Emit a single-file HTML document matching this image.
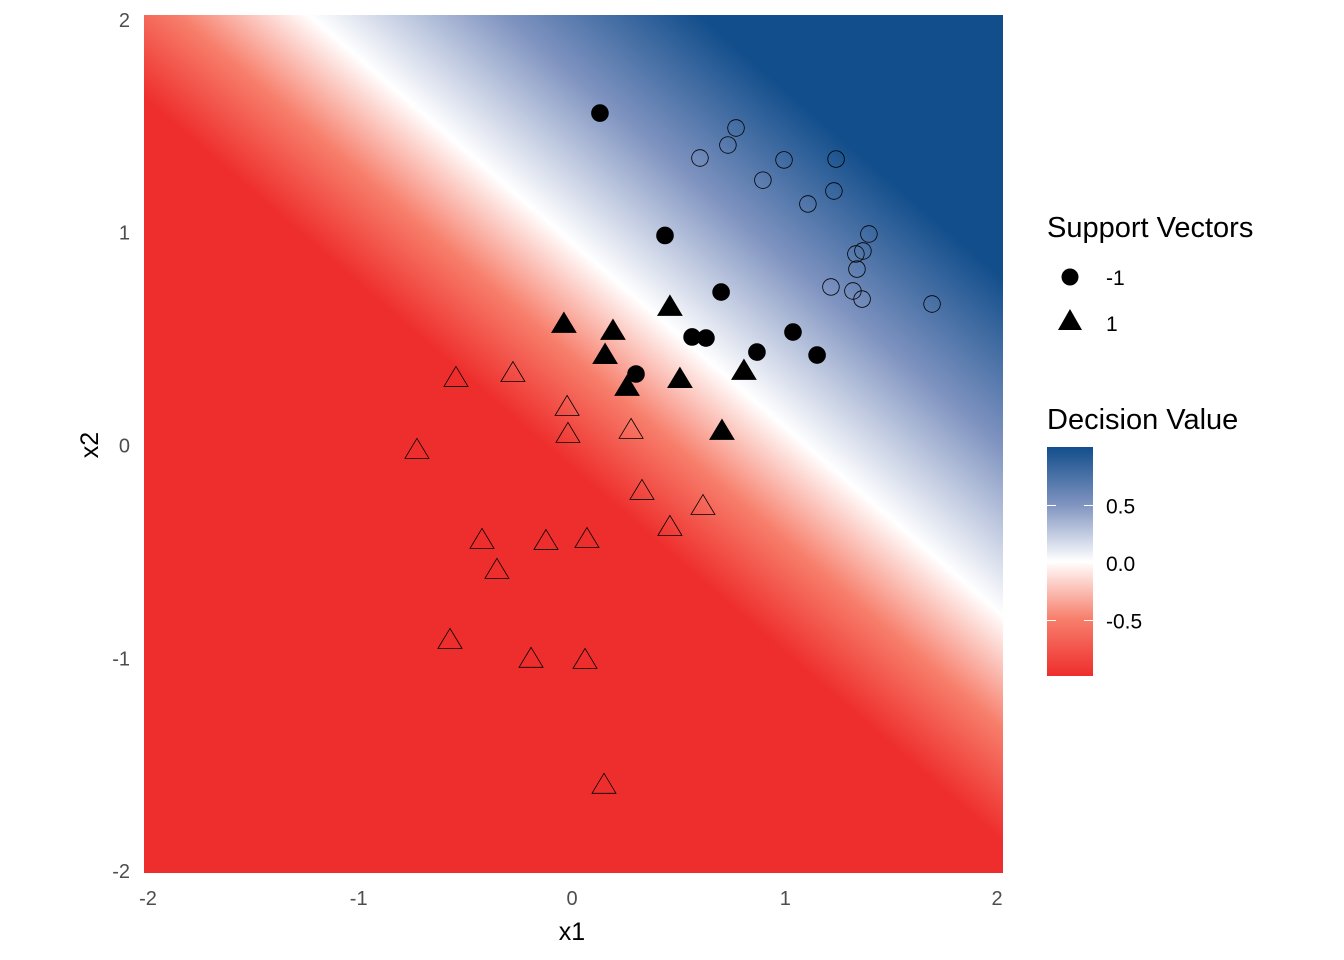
<!DOCTYPE html>
<html><head><meta charset="utf-8"><style>
body{margin:0;background:#fff}
svg{display:block;font-family:"Liberation Sans",Arial,sans-serif}
</style></head><body>
<svg id="c" width="1344" height="960" viewBox="0 0 1344 960" xmlns="http://www.w3.org/2000/svg">
<defs>
<linearGradient id="bar" x1="0" y1="1" x2="0" y2="0">
<stop offset="0" stop-color="#ee2e2c"/><stop offset="0.25" stop-color="#f77f6c"/><stop offset="0.5" stop-color="#ffffff"/><stop offset="0.75" stop-color="#7f93c0"/><stop offset="1" stop-color="#124e8b"/>
</linearGradient>
</defs>
<g id="panel"></g>
<g id="pts"></g>
<g id="axes"></g>
<g id="legend"></g>
</svg>
<script>
const c1x1=[0.131,0.436,0.699,0.563,0.628,0.300,0.867,1.036,1.149];
const c1x2=[1.562,0.987,0.721,0.510,0.505,0.336,0.439,0.533,0.425];
const o1x1=[0.600,0.769,0.731,0.895,0.994,1.238,1.106,1.228,1.392,1.331,1.364,1.336,1.214,1.317,1.360,1.688];
const o1x2=[1.351,1.492,1.412,1.247,1.342,1.346,1.135,1.196,0.994,0.900,0.914,0.829,0.745,0.726,0.688,0.665];
const t1x1=[-0.038,0.459,0.192,0.155,0.258,0.506,0.806,0.703];
const t1x2=[0.576,0.656,0.543,0.430,0.280,0.317,0.355,0.073];
const ot1x1=[-0.544,-0.277,-0.023,-0.019,0.277,-0.727,0.328,0.614,0.459,-0.422,-0.122,0.070,-0.352,-0.572,-0.192,0.061,0.150];
const ot1x2=[0.322,0.345,0.186,0.059,0.078,-0.016,-0.209,-0.280,-0.378,-0.439,-0.444,-0.435,-0.580,-0.909,-0.998,-1.003,-1.590];
const xTicks=[-2,-1,0,1,2];
const yTicks=[-2,-1,0,1,2];
const legTicks=[0.5,0.0,-0.5];
// decision boundary (two points on f=0) and saturation distances (data units) on each side
const boundaryA=[-1.23,2.02], boundaryB=[2.02,-0.80];
const satRed=0.8, satBlue=1.2;

const NS="http://www.w3.org/2000/svg";
const X=v=>572+213.3*v, Y=v=>445.5-212.8*v;
function mk(t,a,p){const e=document.createElementNS(NS,t);for(const k in a)e.setAttribute(k,a[k]);p.appendChild(e);return e;}
const svg=document.getElementById('c');
const panel=document.getElementById('panel'),pts=document.getElementById('pts'),axes=document.getElementById('axes'),leg=document.getElementById('legend');

const ax=X(boundaryA[0]),ay=Y(boundaryA[1]),bx=X(boundaryB[0]),by=Y(boundaryB[1]);
let dx=bx-ax,dy=by-ay,L=Math.hypot(dx,dy);let nx=dy/L,ny=-dx/L;
const mx=(ax+bx)/2,my=(ay+by)/2,dr=satRed*213,db=satBlue*213;
const w=dr/(dr+db);
const defs=svg.querySelector('defs');
const g=mk('linearGradient',{id:'bg',gradientUnits:'userSpaceOnUse',x1:mx-nx*dr,y1:my-ny*dr,x2:mx+nx*db,y2:my+ny*db},defs);
[[0,'#ee2e2c'],[w*0.5,'#f77f6c'],[w,'#ffffff'],[w+(1-w)*0.5,'#7f93c0'],[1,'#124e8b']].forEach(s=>mk('stop',{offset:s[0],'stop-color':s[1]},g));
const bgr=mk('rect',{x:144,y:15,width:859,height:858,fill:'url(#bg)'},panel);



function circ(x,y,filled,name){const e=mk('circle',{cx:X(x),cy:Y(y),r:8.3,fill:filled?'#000':'none',stroke:'#000','stroke-width':filled?1:0.8},pts);

}
function tri(x,y,filled,name){const cx=X(x),cy=Y(y),h=10.5,w=12;
const e=mk('polygon',{points:`${cx},${cy-h} ${cx-w},${cy+h*0.9} ${cx+w},${cy+h*0.9}`,fill:filled?'#000':'none',stroke:'#000','stroke-width':filled?1:0.8},pts);

}
o1x1.forEach((v,i)=>circ(v,o1x2[i],false,'point-class-neg1'));
c1x1.forEach((v,i)=>circ(v,c1x2[i],true,'support-vector-neg1'));
ot1x1.forEach((v,i)=>tri(v,ot1x2[i],false,'point-class-1'));
t1x1.forEach((v,i)=>tri(v,t1x2[i],true,'support-vector-1'));

function txt(s,a,p,name){const e=mk('text',a,p);e.textContent=s;

return e;}
xTicks.forEach(v=>{const xx=Math.min(Math.max(X(v),148),997);txt(String(v),{x:xx,y:905,'text-anchor':'middle','font-size':20,fill:'#4d4d4d'},axes,'x-tick-label');});
yTicks.forEach(v=>{const yy=Math.min(Math.max(Y(v),20),871);txt(String(v),{x:130,y:yy+7,'text-anchor':'end','font-size':20,fill:'#4d4d4d'},axes,'y-tick-label');});
txt('x1',{x:572,y:940,'text-anchor':'middle','font-size':25,fill:'#000'},axes,'x-axis-title');
txt('x2',{x:0,y:0,'text-anchor':'middle','font-size':25,fill:'#000',transform:'translate(98,445) rotate(-90)'},axes,'y-axis-title');

txt('Support Vectors',{x:1047,y:237,'font-size':29,fill:'#000'},leg,'legend-title-support-vectors');
let e=mk('circle',{cx:1070,cy:277,r:8.5,fill:'#000'},leg);


txt('-1',{x:1106,y:285,'font-size':21,fill:'#000'},leg,'legend-label-neg1');
e=mk('polygon',{points:'1070,309 1058,330 1082,330',fill:'#000'},leg);


txt('1',{x:1106,y:331,'font-size':21,fill:'#000'},leg,'legend-label-1');
txt('Decision Value',{x:1047,y:429,'font-size':29,fill:'#000'},leg,'legend-title-decision-value');
e=mk('rect',{x:1047,y:447,width:46,height:229,fill:'url(#bar)'},leg);


const LY=v=>563-115*v;
legTicks.forEach(v=>{const y=LY(v);
const t=mk('line',{x1:1047,x2:1056,y1:y,y2:y,stroke:'#fff','stroke-width':1},leg);


const t2=mk('line',{x1:1084,x2:1093,y1:y,y2:y,stroke:'#fff','stroke-width':1},leg);


txt(v.toFixed(1),{x:1106,y:y+8,'font-size':21,fill:'#000'},leg,'colorbar-label');});
</script>
</body></html>
